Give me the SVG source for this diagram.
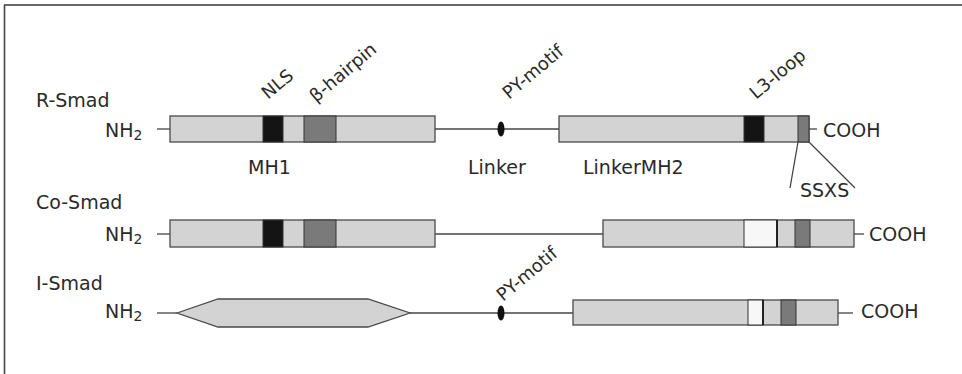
<svg xmlns="http://www.w3.org/2000/svg" width="962" height="374" viewBox="0 0 962 374">
<style>
text{font-family:"DejaVu Sans","Liberation Sans",sans-serif;font-size:19px;fill:#2a2a2a}
.lbl{font-size:18px}
.dom{fill:#d3d3d3;stroke:#4a4a4a;stroke-width:1.3}
.blk{fill:#141414;stroke:#333;stroke-width:1}
.dg{fill:#7a7a7a;stroke:#333;stroke-width:1}
.wh{fill:#f7f7f7;stroke:#333;stroke-width:1}
.ln{stroke:#444;stroke-width:1.3;fill:none}
.py{fill:#111}
</style>
<rect x="0" y="0" width="962" height="374" fill="#fff"/>
<g id="frame">
<line x1="4" y1="5" x2="962" y2="5" stroke="#333" stroke-width="1.6"/>
<line x1="4.5" y1="5" x2="4.5" y2="374" stroke="#444" stroke-width="1.6"/>
</g>
<g id="connectors">
<line class="ln" x1="157" y1="129" x2="170" y2="129"/>
<line class="ln" x1="435" y1="129" x2="559" y2="129"/>
<line class="ln" x1="809" y1="129" x2="817" y2="129"/>
<line class="ln" x1="157" y1="234" x2="170" y2="234"/>
<line class="ln" x1="435" y1="234" x2="603" y2="234"/>
<line class="ln" x1="854" y1="234" x2="864" y2="234"/>
<line class="ln" x1="157" y1="313" x2="177" y2="313"/>
<line class="ln" x1="410" y1="313" x2="573" y2="313"/>
<line class="ln" x1="838" y1="313" x2="853" y2="313"/>
<line class="ln" x1="798" y1="142" x2="790" y2="188"/>
<line class="ln" x1="809" y1="142" x2="855" y2="188"/>
</g>
<g id="r-smad">
<text x="36" y="107">R-Smad</text>
<text x="105" y="137">NH<tspan font-size="14" dy="3">2</tspan></text>
<rect class="dom" x="170" y="116" width="265" height="26"/>
<rect class="blk" x="263" y="116" width="20" height="26"/>
<rect class="dg" x="304" y="116" width="32" height="26"/>
<rect class="dom" x="559" y="116" width="250" height="26"/>
<rect class="blk" x="744" y="116" width="20" height="26"/>
<rect class="dg" x="798" y="116" width="11" height="26"/>
<ellipse class="py" cx="501" cy="129" rx="3.5" ry="7.5"/>
<text x="823" y="137">COOH</text>
<text class="lbl" transform="translate(268,100) rotate(-40)">NLS</text>
<text class="lbl" transform="translate(316,103) rotate(-40)">β-hairpin</text>
<text class="lbl" transform="translate(509,100) rotate(-40)">PY-motif</text>
<text class="lbl" transform="translate(756,100) rotate(-40)">L3-loop</text>
<text x="248" y="174">MH1</text>
<text x="468" y="174">Linker</text>
<text x="583" y="174">LinkerMH2</text>
<text x="800" y="197">SSXS</text>
</g>
<g id="co-smad">
<text x="36" y="209">Co-Smad</text>
<text x="105" y="241">NH<tspan font-size="14" dy="3">2</tspan></text>
<rect class="dom" x="170" y="220" width="265" height="27"/>
<rect class="blk" x="263" y="220" width="20" height="27"/>
<rect class="dg" x="304" y="220" width="32" height="27"/>
<rect class="dom" x="603" y="220" width="251" height="27"/>
<rect class="wh" x="744" y="220" width="33" height="27"/>
<line x1="777" y1="220" x2="777" y2="247" stroke="#222" stroke-width="2"/>
<rect class="dg" x="795" y="220" width="15" height="27"/>
<text x="869" y="241">COOH</text>
</g>
<g id="i-smad">
<text x="36" y="290">I-Smad</text>
<text x="105" y="318">NH<tspan font-size="14" dy="3">2</tspan></text>
<polygon class="dom" points="177,313 218,299 368,299 410,313 368,327 218,327"/>
<rect class="dom" x="573" y="300" width="265" height="25"/>
<rect class="wh" x="748" y="300" width="15" height="25"/>
<line x1="763" y1="300" x2="763" y2="325" stroke="#222" stroke-width="2"/>
<rect class="dg" x="781" y="300" width="15" height="25"/>
<ellipse class="py" cx="501" cy="313" rx="3.5" ry="7.5"/>
<text x="861" y="318">COOH</text>
<text class="lbl" transform="translate(503,302) rotate(-40)">PY-motif</text>
</g>
</svg>
